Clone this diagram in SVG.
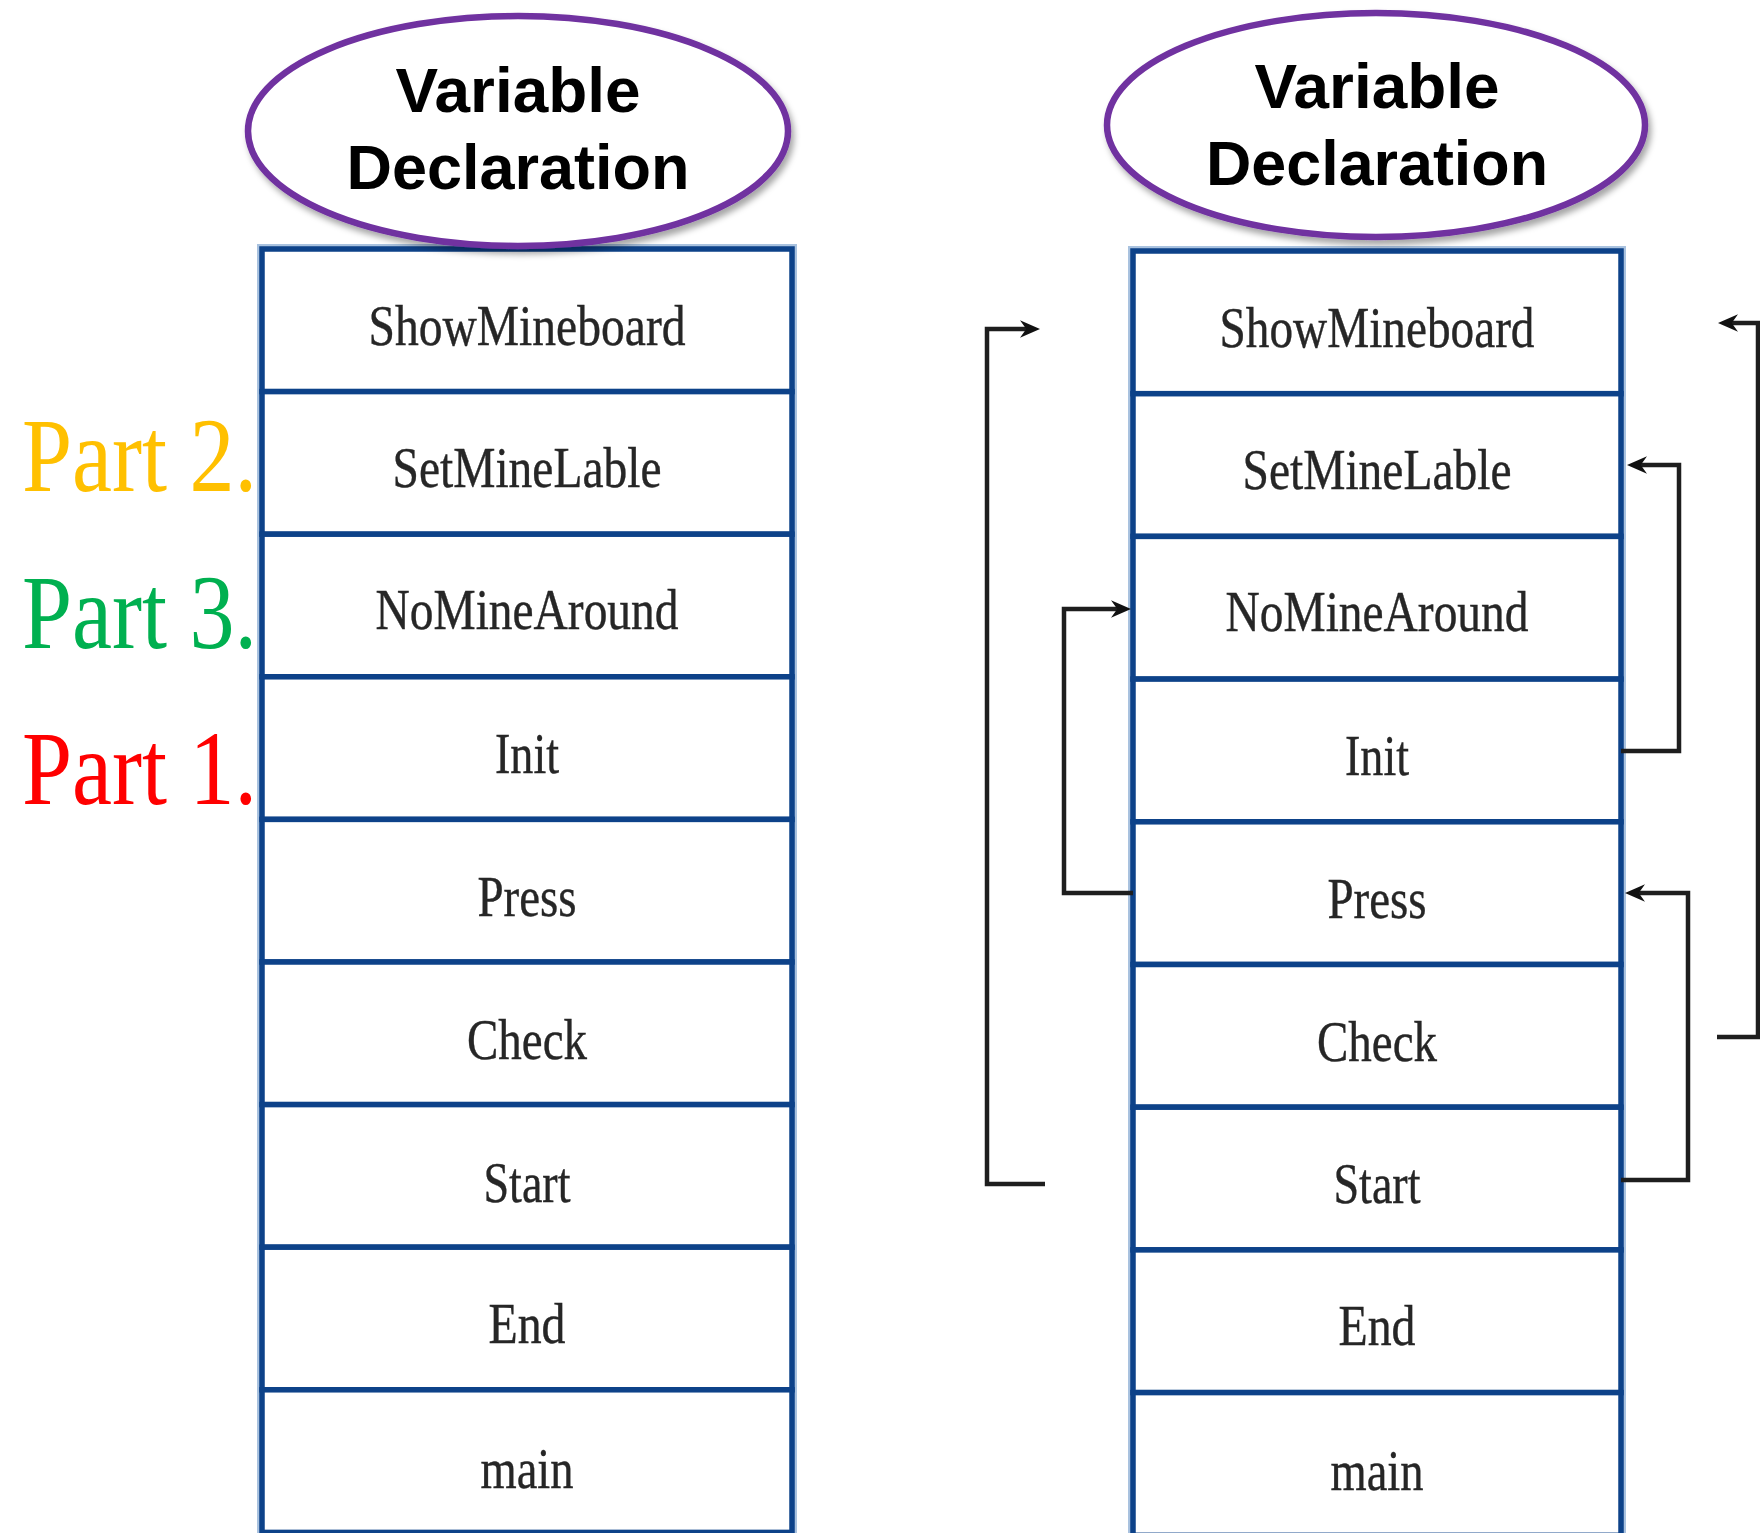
<svg xmlns="http://www.w3.org/2000/svg" width="1760" height="1533" viewBox="0 0 1760 1533">
<defs>
<style>
.halo{fill:none;stroke:#a9c2df;stroke-width:10}
.cell{fill:#fff;stroke:#0d4289;stroke-width:5.5}
.lbl{font-family:"Liberation Serif","Times New Roman",serif;font-size:58px;fill:#262626;stroke:#262626;stroke-width:0.4;text-anchor:middle}
.ell{fill:#fff;stroke:#7030a0;stroke-width:6.5}
.head{font-family:"Liberation Sans",Arial,sans-serif;font-weight:bold;font-size:63px;fill:#000;text-anchor:middle}
.part{font-family:"Liberation Serif","Times New Roman",serif;font-size:106px}
.conn{fill:none;stroke:#1e1e1e;stroke-width:4.5;marker-end:url(#arr)}
</style>
<filter id="sh" x="-10%" y="-10%" width="125%" height="130%">
<feDropShadow dx="3" dy="5" stdDeviation="3" flood-color="#000" flood-opacity="0.35"/>
</filter>
<marker id="arr" viewBox="0 0 16 16" refX="8" refY="8" markerWidth="20" markerHeight="20" markerUnits="userSpaceOnUse" orient="auto">
<path d="M0,1 L16,8 L0,15 L5,8 Z" fill="#111"/>
</marker>
</defs>
<rect width="1760" height="1533" fill="#fff"/>

<!-- left stack -->
<g id="left-stack">
<rect class="halo" x="262" y="249" width="530" height="1290"/>
<g id="L-ShowMineboard"><rect class="cell" x="262" y="249" width="530" height="142.6"/><text class="lbl" x="527" y="345" textLength="317" lengthAdjust="spacingAndGlyphs">ShowMineboard</text></g>
<g id="L-SetMineLable"><rect class="cell" x="262" y="391.6" width="530" height="142.6"/><text class="lbl" x="527" y="487" textLength="269" lengthAdjust="spacingAndGlyphs">SetMineLable</text></g>
<g id="L-NoMineAround"><rect class="cell" x="262" y="534.2" width="530" height="142.6"/><text class="lbl" x="527" y="629" textLength="303" lengthAdjust="spacingAndGlyphs">NoMineAround</text></g>
<g id="L-Init"><rect class="cell" x="262" y="676.8" width="530" height="142.6"/><text class="lbl" x="527" y="773" textLength="64" lengthAdjust="spacingAndGlyphs">Init</text></g>
<g id="L-Press"><rect class="cell" x="262" y="819.4" width="530" height="142.6"/><text class="lbl" x="527" y="916" textLength="99" lengthAdjust="spacingAndGlyphs">Press</text></g>
<g id="L-Check"><rect class="cell" x="262" y="962" width="530" height="142.6"/><text class="lbl" x="527" y="1059" textLength="120" lengthAdjust="spacingAndGlyphs">Check</text></g>
<g id="L-Start"><rect class="cell" x="262" y="1104.6" width="530" height="142.6"/><text class="lbl" x="527" y="1202" textLength="87" lengthAdjust="spacingAndGlyphs">Start</text></g>
<g id="L-End"><rect class="cell" x="262" y="1247.2" width="530" height="142.6"/><text class="lbl" x="527" y="1343" textLength="77" lengthAdjust="spacingAndGlyphs">End</text></g>
<g id="L-main"><rect class="cell" x="262" y="1389.8" width="530" height="142.6"/><text class="lbl" x="527" y="1488" textLength="93" lengthAdjust="spacingAndGlyphs">main</text></g>
</g>

<!-- right stack -->
<g id="right-stack">
<rect class="halo" x="1133" y="251" width="488" height="1290"/>
<g id="R-ShowMineboard"><rect class="cell" x="1133" y="251" width="488" height="142.7"/><text class="lbl" x="1377" y="347" textLength="315" lengthAdjust="spacingAndGlyphs">ShowMineboard</text></g>
<g id="R-SetMineLable"><rect class="cell" x="1133" y="393.7" width="488" height="142.7"/><text class="lbl" x="1377" y="489" textLength="269" lengthAdjust="spacingAndGlyphs">SetMineLable</text></g>
<g id="R-NoMineAround"><rect class="cell" x="1133" y="536.4" width="488" height="142.7"/><text class="lbl" x="1377" y="631" textLength="303" lengthAdjust="spacingAndGlyphs">NoMineAround</text></g>
<g id="R-Init"><rect class="cell" x="1133" y="679.1" width="488" height="142.7"/><text class="lbl" x="1377" y="775" textLength="64" lengthAdjust="spacingAndGlyphs">Init</text></g>
<g id="R-Press"><rect class="cell" x="1133" y="821.8" width="488" height="142.7"/><text class="lbl" x="1377" y="918" textLength="99" lengthAdjust="spacingAndGlyphs">Press</text></g>
<g id="R-Check"><rect class="cell" x="1133" y="964.5" width="488" height="142.7"/><text class="lbl" x="1377" y="1061" textLength="120" lengthAdjust="spacingAndGlyphs">Check</text></g>
<g id="R-Start"><rect class="cell" x="1133" y="1107.2" width="488" height="142.7"/><text class="lbl" x="1377" y="1203" textLength="87" lengthAdjust="spacingAndGlyphs">Start</text></g>
<g id="R-End"><rect class="cell" x="1133" y="1249.9" width="488" height="142.7"/><text class="lbl" x="1377" y="1345" textLength="77" lengthAdjust="spacingAndGlyphs">End</text></g>
<g id="R-main"><rect class="cell" x="1133" y="1392.6" width="488" height="142.7"/><text class="lbl" x="1377" y="1490" textLength="93" lengthAdjust="spacingAndGlyphs">main</text></g>
</g>

<!-- headers -->
<g id="L-VarDecl">
<ellipse class="ell" cx="518" cy="131" rx="270" ry="115" filter="url(#sh)"/>
<text class="head" x="518" y="112" textLength="245" lengthAdjust="spacingAndGlyphs">Variable</text>
<text class="head" x="518" y="189" textLength="343" lengthAdjust="spacingAndGlyphs">Declaration</text>
</g>
<g id="R-VarDecl">
<ellipse class="ell" cx="1376" cy="125" rx="269" ry="112" filter="url(#sh)"/>
<text class="head" x="1377" y="108" textLength="245" lengthAdjust="spacingAndGlyphs">Variable</text>
<text class="head" x="1377" y="185" textLength="342" lengthAdjust="spacingAndGlyphs">Declaration</text>
</g>

<!-- part labels -->
<g id="part-labels">
<text class="part" x="22" y="491" fill="#ffc000" textLength="235" lengthAdjust="spacingAndGlyphs">Part 2.</text>
<text class="part" x="22" y="648" fill="#00b050" textLength="235" lengthAdjust="spacingAndGlyphs">Part 3.</text>
<text class="part" x="22" y="804" fill="#ff0000" textLength="235" lengthAdjust="spacingAndGlyphs">Part 1.</text>
</g>

<!-- connectors -->
<g id="connectors">
<path class="conn" d="M1045,1184 H987 V329 H1030"/>
<path class="conn" d="M1133,893 H1064 V609 H1121"/>
<path class="conn" d="M1621,751 H1679 V465 H1637"/>
<path class="conn" d="M1621,1180 H1688 V893 H1635"/>
<path class="conn" d="M1717,1037 H1758 V323 H1728"/>
</g>
</svg>
